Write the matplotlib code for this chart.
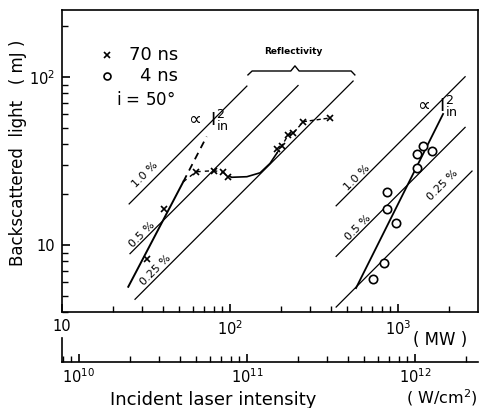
import matplotlib
matplotlib.use("Agg")
import matplotlib.pyplot as plt
from matplotlib.ticker import LogLocator, NullFormatter

# 70 ns pulses : laser power (MW) -> backscattered energy (mJ)
p70 = [31.9, 40.5, 62.8, 80.4, 90.6, 97.7, 190, 203, 222, 238, 273, 394]
e70 = [8.22, 16.3, 27.3, 27.7, 27.3, 25.3, 37.2, 38.8, 45.2, 46.3, 54.2, 57.0]

# 4 ns pulses
p4 = [707, 826, 973, 864, 864, 1303, 1303, 1415, 1593]
e4 = [6.25, 7.85, 13.5, 16.3, 20.8, 28.8, 34.8, 39.0, 36.4]

# hand drawn curve through the 70 ns points (dashed / solid / dashed)
curve1_p = [52.7, 62.8, 80.4, 90.6, 102]
curve1_e = [23.8, 27.3, 27.7, 27.1, 25.3]
curve2_p = [102, 126, 151, 173, 190]
curve2_e = [25.3, 25.5, 26.9, 30.6, 35.2]
curve3_p = [190, 203, 222, 238, 273, 394]
curve3_e = [35.2, 38.8, 45.2, 46.3, 54.2, 57.0]

# I_in^2 fits
fit70_p = [24.8, 52.7]
fit70_e = [5.65, 23.8]
fit70_ext_p = [52.7, 72.6]
fit70_ext_e = [23.8, 44.2]
fit4_p = [562, 1853]
fit4_e = [5.55, 60.2]

# constant reflectivity lines (%), E = R * P * tau
refl = [1.0, 0.5, 0.25]
refl_labels = ["1.0 %", "0.5 %", "0.25 %"]
tau70, tau4 = 70, 4  # ns
range70 = [(25.1, 126), (25.4, 254), (27.2, 540)]
range4 = [(428, 2506), (428, 2506), (428, 2755)]

xticks = [10, 100, 1000]
xticklabels = ["10", "10$^2$", "10$^3$"]
yticks = [10, 100]
yticklabels = ["10", "10$^2$"]
iticks = [1e10, 1e11, 1e12]
iticklabels = ["10$^{10}$", "10$^{11}$", "10$^{12}$"]
conv = 10 ** 8.899  # MW -> W/cm2

xmin, xmax = 10, 2990

fig = plt.figure(figsize=(4.79, 4.08), dpi=100)
ax = fig.add_axes([0.1294, 0.2353, 0.8685, 0.7402])
ax.set_xscale("log")
ax.set_yscale("log")
ax.set_xlim(xmin, xmax)
ax.set_ylim(4, 250)

ax.set_xticks(xticks, xticklabels)
ax.set_yticks(yticks, yticklabels)
ax.xaxis.set_minor_locator(LogLocator(base=10, subs=range(2, 10), numticks=50))
ax.yaxis.set_minor_locator(LogLocator(base=10, subs=range(2, 10), numticks=50))
ax.xaxis.set_minor_formatter(NullFormatter())
ax.yaxis.set_minor_formatter(NullFormatter())
ax.tick_params(which="major", direction="in", length=6, width=1.2, pad=5, labelsize=10.5)
ax.tick_params(which="minor", direction="in", length=4, width=1.0)
for s in ax.spines.values():
    s.set_linewidth(1.2)

for r, (a, b) in zip(refl, range70):
    ax.plot([a, b], [r / 100 * tau70 * a, r / 100 * tau70 * b], color="k", lw=0.9)
for r, (a, b) in zip(refl, range4):
    ax.plot([a, b], [r / 100 * tau4 * a, r / 100 * tau4 * b], color="k", lw=0.9)

ax.plot(fit70_p, fit70_e, color="k", lw=1.4)
ax.plot(fit70_ext_p, fit70_ext_e, color="k", lw=1.3, ls=(0, (4, 3)))
ax.plot(fit4_p, fit4_e, color="k", lw=1.3)

ax.plot(curve1_p, curve1_e, color="k", lw=1.0, ls=(0, (3, 3)))
ax.plot(curve2_p, curve2_e, color="k", lw=1.2)
ax.plot(curve3_p, curve3_e, color="k", lw=1.0, ls=(0, (3, 2)))

ax.plot(p70, e70, ls="none", marker="x", ms=4, mew=1.2, color="k")
ax.plot(p4, e4, ls="none", marker="o", ms=6, mew=1.2, mfc="white", mec="k")

# legend-like text
ax.plot([0.108], [0.851], transform=ax.transAxes, marker="x", ms=4, mew=1.2, color="k", clip_on=False)
ax.plot([0.108], [0.781], transform=ax.transAxes, marker="o", ms=5, mew=1.2, mfc="white", mec="k", clip_on=False)
ax.text(0.279, 0.851, "70 ns", transform=ax.transAxes, ha="right", va="center", fontsize=13)
ax.text(0.279, 0.781, "4 ns", transform=ax.transAxes, ha="right", va="center", fontsize=13)
ax.text(0.13, 0.703, "i = 50$\\degree$", transform=ax.transAxes, ha="left", va="center", fontsize=12)

# reflectivity brace
bx = [0.447, 0.457, 0.550, 0.560, 0.570, 0.695, 0.704]
by = [0.785, 0.798, 0.798, 0.815, 0.798, 0.798, 0.785]
ax.plot(bx, by, transform=ax.transAxes, color="k", lw=1.0)
ax.text(0.555, 0.861, "Reflectivity", transform=ax.transAxes, ha="center", va="center",
        fontsize=6.5, fontweight="bold")

ax.text(0.349, 0.636, r"$\propto\ \mathrm{I}_{\mathrm{in}}^{2}$", transform=ax.transAxes,
        ha="center", va="center", fontsize=13)
ax.text(0.899, 0.682, r"$\propto\ \mathrm{I}_{\mathrm{in}}^{2}$", transform=ax.transAxes,
        ha="center", va="center", fontsize=13)

label_pos = [(0.200, 0.454), (0.192, 0.255), (0.224, 0.139),
             (0.709, 0.444), (0.712, 0.278), (0.916, 0.421)]
for (x, y), t in zip(label_pos, refl_labels + refl_labels):
    ax.text(x, y, t, transform=ax.transAxes, rotation=45, ha="center", va="center", fontsize=8)

ax.text(-0.106, 0.526, "Backscattered  light   ( mJ )", transform=ax.transAxes,
        rotation=90, ha="center", va="center", fontsize=12)
ax.text(0.909, -0.093, "( MW )", transform=ax.transAxes, ha="center", va="center", fontsize=12)

# intensity axis, drawn as a second flat axes under the main one
sec = fig.add_axes([0.1294, 0.1127, 0.8685, 0.02])
sec.set_xscale("log")
sec.set_xlim(xmin * conv, xmax * conv)
sec.set_yticks([])
for k in ["top", "right", "left"]:
    sec.spines[k].set_visible(False)
sec.spines["bottom"].set_linewidth(1.2)
sec.patch.set_alpha(0)
sec.set_xticks(iticks, iticklabels)
sec.xaxis.set_minor_locator(LogLocator(base=10, subs=range(2, 10), numticks=50))
sec.xaxis.set_minor_formatter(NullFormatter())
sec.tick_params(which="major", direction="in", length=6, width=1.2, pad=4, labelsize=10.5)
sec.tick_params(which="minor", direction="in", length=4, width=1.0)
ax.plot([0, 0], [-0.086, -0.1656], transform=ax.transAxes, color="k", lw=1.2, clip_on=False)
ax.text(0.363, -0.291, "Incident laser intensity", transform=ax.transAxes,
        ha="center", va="center", fontsize=13)
ax.text(0.998, -0.285, "( W/cm$^2$)", transform=ax.transAxes, ha="right", va="center", fontsize=11.5)

fig.savefig("out.png", dpi=100)
